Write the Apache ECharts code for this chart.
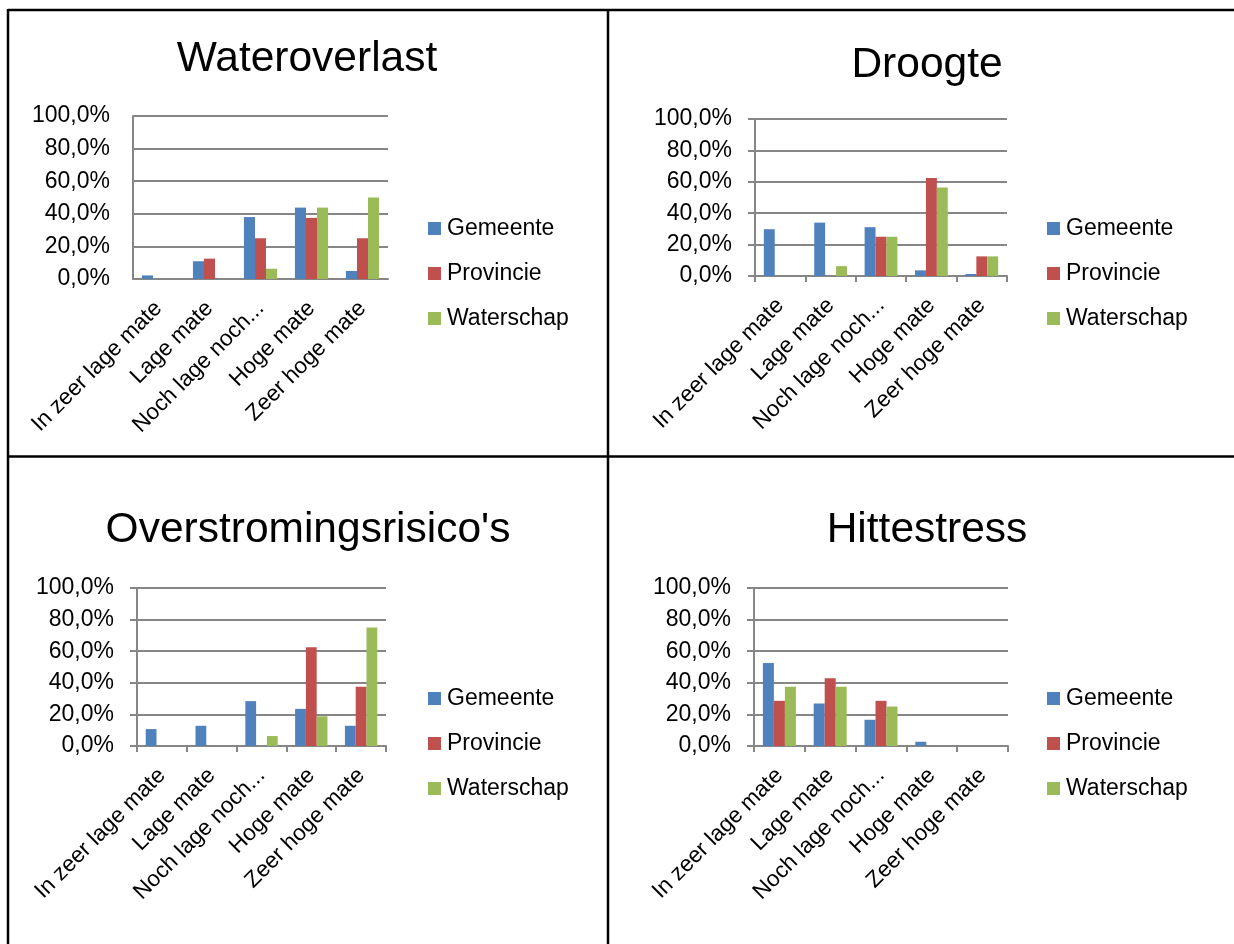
<!DOCTYPE html>
<html>
<head>
<meta charset="utf-8">
<script src="https://cdn.jsdelivr.net/npm/echarts@6/dist/echarts.min.js"></script>
<style>
  html, body { margin: 0; padding: 0; background: #fff; }
  #chart { width: 1234px; height: 944px; }
</style>
</head>
<body>
<div id="chart"></div>
<script>
// Answer categories (the middle one is shown shortened)
const categories = ['In zeer lage mate', 'Lage mate', 'Noch lage noch...', 'Hoge mate', 'Zeer hoge mate'];
const seriesNames = ['Gemeente', 'Provincie', 'Waterschap'];
const panelTitles = ['Wateroverlast', 'Droogte', "Overstromingsrisico's", 'Hittestress'];
const yTicks = [0, 20, 40, 60, 80, 100];

// Percentages per theme: Gemeente / Provincie / Waterschap
const wateroverlastGemeente   = [2.2, 10.9, 38.0, 43.8, 4.9];
const wateroverlastProvincie  = [0, 12.5, 25.0, 37.5, 25.0];
const wateroverlastWaterschap = [0, 0, 6.3, 43.8, 50.0];

const droogteGemeente   = [29.8, 34.0, 31.1, 3.6, 1.3];
const droogteProvincie  = [0, 0, 25.0, 62.5, 12.5];
const droogteWaterschap = [0, 6.3, 25.0, 56.3, 12.5];

const overstromingGemeente   = [10.7, 12.8, 28.4, 23.5, 12.8];
const overstromingProvincie  = [0, 0, 0, 62.5, 37.5];
const overstromingWaterschap = [0, 0, 6.3, 18.8, 75.0];

const hittestressGemeente   = [52.5, 26.9, 16.6, 2.7, 0];
const hittestressProvincie  = [28.6, 42.9, 28.6, 0, 0];
const hittestressWaterschap = [37.5, 37.5, 25.0, 0, 0];

const panelData = [
  [wateroverlastGemeente, wateroverlastProvincie, wateroverlastWaterschap],
  [droogteGemeente, droogteProvincie, droogteWaterschap],
  [overstromingGemeente, overstromingProvincie, overstromingWaterschap],
  [hittestressGemeente, hittestressProvincie, hittestressWaterschap]
];

const colors = ['#4F81BD', '#C0504D', '#9BBB59'];
const FONT = '"Liberation Sans", Arial, sans-serif';

// Layout of the four panels
const panels = [
  { grid: { left: 133, top: 116, width: 255, height: 163 }, titleX: 307, titleY: 38, legendX: 428, legendY: 217, ticks: false },
  { grid: { left: 755, top: 119, width: 252, height: 157 }, titleX: 927, titleY: 44, legendX: 1047, legendY: 217, ticks: true },
  { grid: { left: 137, top: 588, width: 249, height: 158 }, titleX: 308, titleY: 509, legendX: 428, legendY: 687, ticks: true },
  { grid: { left: 754, top: 588, width: 254, height: 158 }, titleX: 927, titleY: 509, legendX: 1047, legendY: 687, ticks: true }
];

const fmtPct = v => v.toFixed(1).replace('.', ',') + '%';

const option = {
  animation: false,
  backgroundColor: '#ffffff',
  color: colors,
  title: panels.map((p, i) => ({
    text: panelTitles[i],
    left: p.titleX,
    top: p.titleY,
    textAlign: 'center',
    padding: 0,
    textStyle: { fontFamily: FONT, fontSize: 42.5, fontWeight: 'normal', color: '#000' }
  })),
  legend: panels.map(p => ({
    data: seriesNames,
    orient: 'vertical',
    left: p.legendX,
    top: p.legendY,
    padding: 0,
    icon: 'rect',
    itemWidth: 13,
    itemHeight: 13,
    itemGap: 22,
    selectedMode: false,
    textStyle: { fontFamily: FONT, fontSize: 23, color: '#000', lineHeight: 23, padding: [0, 0, 0, 1] }
  })),
  grid: panels.map(p => Object.assign({ containLabel: false }, p.grid)),
  xAxis: panels.map((p, i) => ({
    type: 'category',
    gridIndex: i,
    data: categories,
    axisLine: { show: true, lineStyle: { color: '#868686', width: 2 } },
    axisTick: { show: p.ticks, length: 6, lineStyle: { color: '#868686', width: 2 } },
    axisLabel: {
      interval: 0,
      rotate: 45,
      margin: 26,
      fontFamily: FONT,
      fontSize: 22.5,
      color: '#000'
    }
  })),
  yAxis: panels.map((p, i) => ({
    type: 'value',
    gridIndex: i,
    min: yTicks[0],
    max: yTicks[yTicks.length - 1],
    interval: yTicks[1] - yTicks[0],
    axisLine: { show: true, lineStyle: { color: '#868686', width: 2 } },
    axisTick: { show: p.ticks, length: 7, lineStyle: { color: '#868686', width: 2 } },
    splitLine: { show: true, lineStyle: { color: '#868686', width: 2 } },
    axisLabel: {
      margin: 23,
      fontFamily: FONT,
      fontSize: 23,
      color: '#000',
      formatter: fmtPct
    }
  })),
  series: panelData.flatMap((sets, i) => sets.map((vals, k) => ({
    type: 'bar',
    name: seriesNames[k],
    xAxisIndex: i,
    yAxisIndex: i,
    data: vals,
    barGap: '0%',
    barCategoryGap: '35%',
    itemStyle: { color: colors[k] }
  }))),
  graphic: [
    { type: 'line', shape: { x1: 8, y1: 10, x2: 1234, y2: 10 }, style: { stroke: '#000', lineWidth: 2.5 } },
    { type: 'line', shape: { x1: 8, y1: 9, x2: 8, y2: 944 }, style: { stroke: '#000', lineWidth: 2.5 } },
    { type: 'line', shape: { x1: 608, y1: 9, x2: 608, y2: 944 }, style: { stroke: '#000', lineWidth: 2.5 } },
    { type: 'line', shape: { x1: 8, y1: 456.5, x2: 1234, y2: 456.5 }, style: { stroke: '#000', lineWidth: 2.5 } }
  ]
};

const chart = echarts.init(document.getElementById('chart'), null, { renderer: 'canvas' });
chart.setOption(option);
</script>
</body>
</html>
